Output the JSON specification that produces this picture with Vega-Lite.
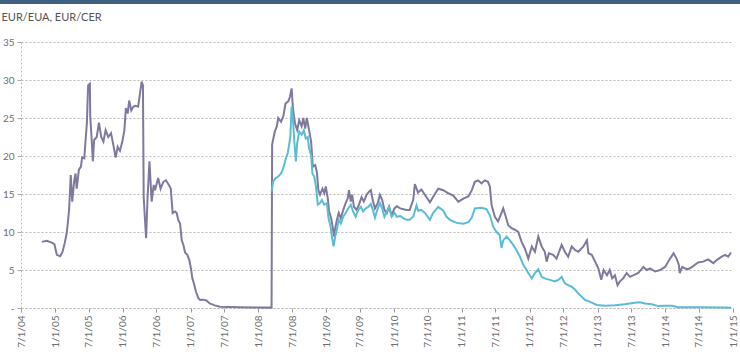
{
  "$schema": "https://vega.github.io/schema/vega-lite/v6.json",
  "width": 712,
  "height": 266,
  "autosize": {"type": "none"},
  "padding": {"left": 21, "top": 42, "right": 7, "bottom": 48},
  "background": "white",
  "config": {
    "view": {"stroke": null},
    "font": "Lato",
    "axisX": {
      "labelAngle": -90,
      "labelAlign": "right",
      "labelBaseline": "middle",
      "labelFont": "Lato",
      "labelFontSize": 10,
      "labelColor": "#6e6e6e",
      "labelPadding": 3,
      "labelFlush": false,
      "labelOverlap": false,
      "tickSize": 4,
      "tickColor": "#9a9a9a",
      "domainColor": "#b8b8b8",
      "domainDash": [2, 2],
      "grid": false
    },
    "axisY": {
      "titleAngle": 0,
      "titleAlign": "left",
      "titleBaseline": "middle",
      "titleX": -20,
      "titleY": -25,
      "titleFont": "Lato",
      "titleFontSize": 11,
      "titleFontWeight": "normal",
      "titleColor": "#555555",
      "labelFont": "Lato",
      "labelFontSize": 10,
      "labelColor": "#6e6e6e",
      "labelPadding": 3,
      "tickSize": 4,
      "tickColor": "#aaaaaa",
      "domainColor": "#b8b8b8",
      "domainDash": [2, 2],
      "grid": true,
      "gridColor": "#b8b8b8",
      "gridDash": [2, 2]
    }
  },
  "datasets": {
    "prices": [
      {"date":"2004-10-21","series":"EUA","price":8.7},
      {"date":"2004-11-17","series":"EUA","price":8.85},
      {"date":"2004-12-14","series":"EUA","price":8.6},
      {"date":"2004-12-28","series":"EUA","price":8.4},
      {"date":"2005-01-10","series":"EUA","price":7.0},
      {"date":"2005-01-28","series":"EUA","price":6.8},
      {"date":"2005-02-10","series":"EUA","price":7.4},
      {"date":"2005-02-21","series":"EUA","price":8.5},
      {"date":"2005-03-04","series":"EUA","price":9.8},
      {"date":"2005-03-09","series":"EUA","price":10.9},
      {"date":"2005-03-17","series":"EUA","price":12.9},
      {"date":"2005-03-21","series":"EUA","price":14.9},
      {"date":"2005-03-26","series":"EUA","price":17.5},
      {"date":"2005-04-03","series":"EUA","price":14.0},
      {"date":"2005-04-14","series":"EUA","price":16.8},
      {"date":"2005-04-21","series":"EUA","price":17.7},
      {"date":"2005-04-27","series":"EUA","price":15.7},
      {"date":"2005-05-09","series":"EUA","price":18.2},
      {"date":"2005-05-20","series":"EUA","price":18.6},
      {"date":"2005-05-26","series":"EUA","price":19.8},
      {"date":"2005-06-07","series":"EUA","price":19.7},
      {"date":"2005-06-14","series":"EUA","price":22.1},
      {"date":"2005-06-21","series":"EUA","price":24.3},
      {"date":"2005-06-25","series":"EUA","price":27.4},
      {"date":"2005-06-28","series":"EUA","price":29.3},
      {"date":"2005-07-07","series":"EUA","price":29.5},
      {"date":"2005-07-09","series":"EUA","price":25.2},
      {"date":"2005-07-16","series":"EUA","price":22.5},
      {"date":"2005-07-23","series":"EUA","price":19.3},
      {"date":"2005-07-30","series":"EUA","price":22.1},
      {"date":"2005-08-13","series":"EUA","price":22.5},
      {"date":"2005-08-25","series":"EUA","price":24.4},
      {"date":"2005-09-06","series":"EUA","price":22.5},
      {"date":"2005-09-18","series":"EUA","price":21.9},
      {"date":"2005-09-30","series":"EUA","price":23.4},
      {"date":"2005-10-14","series":"EUA","price":22.5},
      {"date":"2005-10-29","series":"EUA","price":23.0},
      {"date":"2005-11-11","series":"EUA","price":21.4},
      {"date":"2005-11-23","series":"EUA","price":19.8},
      {"date":"2005-12-04","series":"EUA","price":21.2},
      {"date":"2005-12-16","series":"EUA","price":20.7},
      {"date":"2005-12-29","series":"EUA","price":21.9},
      {"date":"2006-01-09","series":"EUA","price":23.4},
      {"date":"2006-01-17","series":"EUA","price":26.3},
      {"date":"2006-01-27","series":"EUA","price":25.6},
      {"date":"2006-02-04","series":"EUA","price":27.3},
      {"date":"2006-02-15","series":"EUA","price":26.0},
      {"date":"2006-02-27","series":"EUA","price":26.5},
      {"date":"2006-03-10","series":"EUA","price":26.6},
      {"date":"2006-03-24","series":"EUA","price":26.5},
      {"date":"2006-04-03","series":"EUA","price":28.2},
      {"date":"2006-04-12","series":"EUA","price":29.8},
      {"date":"2006-04-19","series":"EUA","price":29.3},
      {"date":"2006-04-23","series":"EUA","price":14.6},
      {"date":"2006-04-29","series":"EUA","price":12.0},
      {"date":"2006-05-06","series":"EUA","price":9.2},
      {"date":"2006-05-14","series":"EUA","price":14.6},
      {"date":"2006-05-24","series":"EUA","price":19.3},
      {"date":"2006-06-05","series":"EUA","price":14.0},
      {"date":"2006-06-16","series":"EUA","price":16.2},
      {"date":"2006-06-23","series":"EUA","price":15.5},
      {"date":"2006-07-10","series":"EUA","price":17.1},
      {"date":"2006-07-23","series":"EUA","price":15.7},
      {"date":"2006-08-07","series":"EUA","price":16.6},
      {"date":"2006-08-21","series":"EUA","price":16.8},
      {"date":"2006-09-08","series":"EUA","price":16.1},
      {"date":"2006-09-16","series":"EUA","price":15.7},
      {"date":"2006-09-26","series":"EUA","price":12.5},
      {"date":"2006-10-09","series":"EUA","price":12.7},
      {"date":"2006-10-18","series":"EUA","price":12.5},
      {"date":"2006-10-26","series":"EUA","price":11.6},
      {"date":"2006-11-05","series":"EUA","price":11.1},
      {"date":"2006-11-14","series":"EUA","price":8.9},
      {"date":"2006-11-23","series":"EUA","price":8.3},
      {"date":"2006-12-02","series":"EUA","price":7.3},
      {"date":"2006-12-14","series":"EUA","price":7.0},
      {"date":"2006-12-25","series":"EUA","price":6.3},
      {"date":"2007-01-04","series":"EUA","price":5.0},
      {"date":"2007-01-10","series":"EUA","price":3.9},
      {"date":"2007-01-19","series":"EUA","price":3.2},
      {"date":"2007-01-30","series":"EUA","price":2.1},
      {"date":"2007-02-12","series":"EUA","price":1.3},
      {"date":"2007-02-21","series":"EUA","price":1.05},
      {"date":"2007-03-09","series":"EUA","price":1.1},
      {"date":"2007-03-27","series":"EUA","price":1.0},
      {"date":"2007-04-14","series":"EUA","price":0.6},
      {"date":"2007-05-11","series":"EUA","price":0.35},
      {"date":"2007-06-07","series":"EUA","price":0.17},
      {"date":"2007-09-24","series":"EUA","price":0.1},
      {"date":"2007-12-22","series":"EUA","price":0.08},
      {"date":"2008-03-12","series":"EUA","price":0.05},
      {"date":"2008-03-15","series":"EUA","price":21.5},
      {"date":"2008-03-20","series":"EUA","price":22.1},
      {"date":"2008-03-29","series":"EUA","price":23.2},
      {"date":"2008-04-09","series":"EUA","price":23.9},
      {"date":"2008-04-17","series":"EUA","price":25.0},
      {"date":"2008-05-02","series":"EUA","price":24.5},
      {"date":"2008-05-14","series":"EUA","price":25.2},
      {"date":"2008-05-26","series":"EUA","price":26.9},
      {"date":"2008-06-10","series":"EUA","price":27.2},
      {"date":"2008-06-19","series":"EUA","price":27.8},
      {"date":"2008-06-28","series":"EUA","price":28.9},
      {"date":"2008-07-05","series":"EUA","price":26.3},
      {"date":"2008-07-16","series":"EUA","price":24.3},
      {"date":"2008-07-28","series":"EUA","price":23.4},
      {"date":"2008-08-08","series":"EUA","price":24.7},
      {"date":"2008-08-21","series":"EUA","price":23.9},
      {"date":"2008-08-30","series":"EUA","price":25.0},
      {"date":"2008-09-09","series":"EUA","price":23.6},
      {"date":"2008-09-18","series":"EUA","price":25.0},
      {"date":"2008-09-30","series":"EUA","price":23.4},
      {"date":"2008-10-11","series":"EUA","price":21.9},
      {"date":"2008-10-20","series":"EUA","price":18.6},
      {"date":"2008-11-02","series":"EUA","price":18.8},
      {"date":"2008-11-11","series":"EUA","price":17.9},
      {"date":"2008-11-19","series":"EUA","price":15.5},
      {"date":"2008-11-28","series":"EUA","price":14.9},
      {"date":"2008-12-11","series":"EUA","price":15.7},
      {"date":"2008-12-21","series":"EUA","price":15.1},
      {"date":"2008-12-29","series":"EUA","price":16.0},
      {"date":"2009-01-09","series":"EUA","price":14.4},
      {"date":"2009-01-16","series":"EUA","price":12.7},
      {"date":"2009-01-27","series":"EUA","price":11.8},
      {"date":"2009-02-04","series":"EUA","price":10.7},
      {"date":"2009-02-11","series":"EUA","price":9.4},
      {"date":"2009-02-18","series":"EUA","price":10.5},
      {"date":"2009-02-27","series":"EUA","price":11.6},
      {"date":"2009-03-09","series":"EUA","price":12.5},
      {"date":"2009-03-20","series":"EUA","price":11.8},
      {"date":"2009-04-02","series":"EUA","price":12.9},
      {"date":"2009-04-15","series":"EUA","price":13.8},
      {"date":"2009-04-26","series":"EUA","price":14.4},
      {"date":"2009-05-03","series":"EUA","price":15.5},
      {"date":"2009-05-13","series":"EUA","price":14.0},
      {"date":"2009-05-20","series":"EUA","price":14.9},
      {"date":"2009-05-30","series":"EUA","price":13.3},
      {"date":"2009-06-13","series":"EUA","price":12.9},
      {"date":"2009-06-26","series":"EUA","price":13.6},
      {"date":"2009-07-10","series":"EUA","price":14.6},
      {"date":"2009-07-22","series":"EUA","price":14.0},
      {"date":"2009-08-06","series":"EUA","price":14.9},
      {"date":"2009-08-19","series":"EUA","price":15.3},
      {"date":"2009-08-29","series":"EUA","price":15.5},
      {"date":"2009-09-08","series":"EUA","price":14.2},
      {"date":"2009-09-20","series":"EUA","price":13.1},
      {"date":"2009-10-05","series":"EUA","price":13.8},
      {"date":"2009-10-17","series":"EUA","price":14.9},
      {"date":"2009-10-29","series":"EUA","price":14.2},
      {"date":"2009-11-10","series":"EUA","price":12.9},
      {"date":"2009-11-23","series":"EUA","price":12.5},
      {"date":"2009-12-05","series":"EUA","price":13.3},
      {"date":"2009-12-19","series":"EUA","price":12.2},
      {"date":"2010-01-03","series":"EUA","price":13.1},
      {"date":"2010-01-16","series":"EUA","price":13.4},
      {"date":"2010-02-03","series":"EUA","price":13.1},
      {"date":"2010-02-21","series":"EUA","price":13.0},
      {"date":"2010-03-09","series":"EUA","price":12.9},
      {"date":"2010-03-26","series":"EUA","price":12.9},
      {"date":"2010-04-14","series":"EUA","price":14.2},
      {"date":"2010-04-23","series":"EUA","price":16.3},
      {"date":"2010-05-10","series":"EUA","price":15.2},
      {"date":"2010-05-28","series":"EUA","price":15.6},
      {"date":"2010-06-16","series":"EUA","price":14.9},
      {"date":"2010-07-13","series":"EUA","price":13.9},
      {"date":"2010-07-30","series":"EUA","price":14.6},
      {"date":"2010-08-27","series":"EUA","price":15.7},
      {"date":"2010-09-23","series":"EUA","price":15.5},
      {"date":"2010-10-20","series":"EUA","price":15.1},
      {"date":"2010-11-16","series":"EUA","price":14.8},
      {"date":"2010-12-13","series":"EUA","price":14.0},
      {"date":"2011-01-10","series":"EUA","price":14.4},
      {"date":"2011-02-06","series":"EUA","price":14.7},
      {"date":"2011-02-24","series":"EUA","price":15.5},
      {"date":"2011-03-12","series":"EUA","price":16.6},
      {"date":"2011-03-29","series":"EUA","price":16.8},
      {"date":"2011-04-17","series":"EUA","price":16.4},
      {"date":"2011-05-05","series":"EUA","price":16.8},
      {"date":"2011-05-22","series":"EUA","price":16.6},
      {"date":"2011-06-01","series":"EUA","price":16.0},
      {"date":"2011-06-10","series":"EUA","price":13.6},
      {"date":"2011-06-28","series":"EUA","price":12.0},
      {"date":"2011-07-15","series":"EUA","price":11.4},
      {"date":"2011-08-03","series":"EUA","price":12.5},
      {"date":"2011-08-12","series":"EUA","price":13.1},
      {"date":"2011-08-26","series":"EUA","price":12.0},
      {"date":"2011-09-08","series":"EUA","price":10.9},
      {"date":"2011-09-26","series":"EUA","price":10.5},
      {"date":"2011-10-14","series":"EUA","price":10.3},
      {"date":"2011-11-01","series":"EUA","price":10.0},
      {"date":"2011-11-19","series":"EUA","price":8.7},
      {"date":"2011-12-07","series":"EUA","price":7.8},
      {"date":"2011-12-25","series":"EUA","price":6.5},
      {"date":"2012-01-13","series":"EUA","price":8.1},
      {"date":"2012-01-30","series":"EUA","price":7.4},
      {"date":"2012-02-17","series":"EUA","price":9.4},
      {"date":"2012-03-06","series":"EUA","price":8.1},
      {"date":"2012-03-23","series":"EUA","price":7.4},
      {"date":"2012-04-02","series":"EUA","price":6.1},
      {"date":"2012-04-14","series":"EUA","price":7.2},
      {"date":"2012-05-07","series":"EUA","price":7.0},
      {"date":"2012-05-25","series":"EUA","price":6.5},
      {"date":"2012-06-22","series":"EUA","price":8.3},
      {"date":"2012-07-09","series":"EUA","price":7.4},
      {"date":"2012-07-27","series":"EUA","price":6.75},
      {"date":"2012-08-15","series":"EUA","price":8.1},
      {"date":"2012-09-03","series":"EUA","price":7.6},
      {"date":"2012-09-20","series":"EUA","price":7.4},
      {"date":"2012-10-17","series":"EUA","price":8.1},
      {"date":"2012-11-05","series":"EUA","price":8.9},
      {"date":"2012-11-13","series":"EUA","price":7.2},
      {"date":"2012-12-01","series":"EUA","price":7.0},
      {"date":"2012-12-19","series":"EUA","price":6.1},
      {"date":"2013-01-06","series":"EUA","price":5.2},
      {"date":"2013-01-21","series":"EUA","price":3.7},
      {"date":"2013-02-03","series":"EUA","price":5.0},
      {"date":"2013-02-21","series":"EUA","price":4.3},
      {"date":"2013-03-08","series":"EUA","price":5.0},
      {"date":"2013-03-21","series":"EUA","price":3.9},
      {"date":"2013-04-05","series":"EUA","price":4.3},
      {"date":"2013-04-19","series":"EUA","price":3.0},
      {"date":"2013-05-02","series":"EUA","price":3.5},
      {"date":"2013-05-19","series":"EUA","price":3.9},
      {"date":"2013-06-07","series":"EUA","price":4.6},
      {"date":"2013-06-25","series":"EUA","price":4.1},
      {"date":"2013-07-12","series":"EUA","price":4.3},
      {"date":"2013-08-09","series":"EUA","price":4.6},
      {"date":"2013-09-05","series":"EUA","price":5.4},
      {"date":"2013-09-23","series":"EUA","price":5.0},
      {"date":"2013-10-11","series":"EUA","price":5.2},
      {"date":"2013-11-08","series":"EUA","price":4.8},
      {"date":"2013-12-04","series":"EUA","price":5.0},
      {"date":"2013-12-31","series":"EUA","price":5.4},
      {"date":"2014-01-27","series":"EUA","price":6.5},
      {"date":"2014-02-15","series":"EUA","price":7.2},
      {"date":"2014-03-03","series":"EUA","price":6.5},
      {"date":"2014-03-15","series":"EUA","price":5.7},
      {"date":"2014-03-20","series":"EUA","price":4.6},
      {"date":"2014-04-02","series":"EUA","price":5.4},
      {"date":"2014-04-17","series":"EUA","price":5.2},
      {"date":"2014-05-04","series":"EUA","price":5.1},
      {"date":"2014-05-22","series":"EUA","price":5.35},
      {"date":"2014-06-10","series":"EUA","price":5.7},
      {"date":"2014-06-27","series":"EUA","price":6.0},
      {"date":"2014-07-24","series":"EUA","price":6.1},
      {"date":"2014-08-20","series":"EUA","price":6.4},
      {"date":"2014-09-17","series":"EUA","price":5.9},
      {"date":"2014-10-05","series":"EUA","price":6.3},
      {"date":"2014-11-01","series":"EUA","price":6.75},
      {"date":"2014-11-19","series":"EUA","price":7.0},
      {"date":"2014-12-06","series":"EUA","price":6.75},
      {"date":"2014-12-21","series":"EUA","price":7.3},
      {"date":"2008-03-12","series":"CER","price":15.3},
      {"date":"2008-03-20","series":"CER","price":16.6},
      {"date":"2008-04-03","series":"CER","price":17.1},
      {"date":"2008-04-17","series":"CER","price":17.3},
      {"date":"2008-05-02","series":"CER","price":17.7},
      {"date":"2008-05-14","series":"CER","price":18.4},
      {"date":"2008-05-26","series":"CER","price":19.5},
      {"date":"2008-06-07","series":"CER","price":20.4},
      {"date":"2008-06-14","series":"CER","price":21.4},
      {"date":"2008-06-21","series":"CER","price":22.5},
      {"date":"2008-06-28","series":"CER","price":26.5},
      {"date":"2008-07-05","series":"CER","price":25.0},
      {"date":"2008-07-12","series":"CER","price":22.1},
      {"date":"2008-07-21","series":"CER","price":19.3},
      {"date":"2008-07-28","series":"CER","price":21.7},
      {"date":"2008-08-08","series":"CER","price":23.2},
      {"date":"2008-08-21","series":"CER","price":22.8},
      {"date":"2008-09-02","series":"CER","price":23.4},
      {"date":"2008-09-12","series":"CER","price":22.3},
      {"date":"2008-09-23","series":"CER","price":22.5},
      {"date":"2008-09-30","series":"CER","price":21.0},
      {"date":"2008-10-11","series":"CER","price":20.1},
      {"date":"2008-10-18","series":"CER","price":17.7},
      {"date":"2008-10-28","series":"CER","price":17.3},
      {"date":"2008-11-06","series":"CER","price":16.0},
      {"date":"2008-11-16","series":"CER","price":13.6},
      {"date":"2008-11-28","series":"CER","price":13.8},
      {"date":"2008-12-08","series":"CER","price":14.2},
      {"date":"2008-12-21","series":"CER","price":13.6},
      {"date":"2009-01-04","series":"CER","price":13.8},
      {"date":"2009-01-13","series":"CER","price":11.8},
      {"date":"2009-01-24","series":"CER","price":10.7},
      {"date":"2009-01-31","series":"CER","price":9.4},
      {"date":"2009-02-09","series":"CER","price":8.1},
      {"date":"2009-02-18","series":"CER","price":9.4},
      {"date":"2009-02-28","series":"CER","price":10.5},
      {"date":"2009-03-09","series":"CER","price":11.6},
      {"date":"2009-03-20","series":"CER","price":11.1},
      {"date":"2009-04-02","series":"CER","price":12.0},
      {"date":"2009-04-15","series":"CER","price":12.5},
      {"date":"2009-04-29","series":"CER","price":13.1},
      {"date":"2009-05-13","series":"CER","price":13.6},
      {"date":"2009-05-25","series":"CER","price":12.7},
      {"date":"2009-06-08","series":"CER","price":12.0},
      {"date":"2009-06-22","series":"CER","price":12.9},
      {"date":"2009-07-06","series":"CER","price":13.3},
      {"date":"2009-07-18","series":"CER","price":12.7},
      {"date":"2009-08-01","series":"CER","price":13.1},
      {"date":"2009-08-15","series":"CER","price":13.3},
      {"date":"2009-08-29","series":"CER","price":13.7},
      {"date":"2009-09-11","series":"CER","price":12.7},
      {"date":"2009-09-20","series":"CER","price":11.9},
      {"date":"2009-10-05","series":"CER","price":13.1},
      {"date":"2009-10-17","series":"CER","price":13.8},
      {"date":"2009-10-29","series":"CER","price":13.1},
      {"date":"2009-11-10","series":"CER","price":12.0},
      {"date":"2009-11-23","series":"CER","price":12.7},
      {"date":"2009-12-05","series":"CER","price":13.3},
      {"date":"2009-12-19","series":"CER","price":12.0},
      {"date":"2010-01-03","series":"CER","price":12.5},
      {"date":"2010-01-16","series":"CER","price":12.0},
      {"date":"2010-02-03","series":"CER","price":12.1},
      {"date":"2010-02-21","series":"CER","price":11.8},
      {"date":"2010-03-09","series":"CER","price":11.6},
      {"date":"2010-03-26","series":"CER","price":11.6},
      {"date":"2010-04-14","series":"CER","price":12.0},
      {"date":"2010-05-02","series":"CER","price":13.5},
      {"date":"2010-05-10","series":"CER","price":12.8},
      {"date":"2010-05-28","series":"CER","price":12.9},
      {"date":"2010-06-16","series":"CER","price":12.5},
      {"date":"2010-07-13","series":"CER","price":11.6},
      {"date":"2010-07-30","series":"CER","price":12.5},
      {"date":"2010-08-27","series":"CER","price":13.3},
      {"date":"2010-09-23","series":"CER","price":12.8},
      {"date":"2010-10-11","series":"CER","price":12.0},
      {"date":"2010-10-29","series":"CER","price":11.6},
      {"date":"2010-12-04","series":"CER","price":11.2},
      {"date":"2011-01-10","series":"CER","price":11.1},
      {"date":"2011-02-06","series":"CER","price":11.3},
      {"date":"2011-02-24","series":"CER","price":11.9},
      {"date":"2011-03-12","series":"CER","price":13.1},
      {"date":"2011-04-17","series":"CER","price":13.2},
      {"date":"2011-05-14","series":"CER","price":13.0},
      {"date":"2011-06-01","series":"CER","price":12.2},
      {"date":"2011-06-19","series":"CER","price":10.7},
      {"date":"2011-07-07","series":"CER","price":10.0},
      {"date":"2011-07-24","series":"CER","price":9.6},
      {"date":"2011-08-03","series":"CER","price":7.9},
      {"date":"2011-08-12","series":"CER","price":8.9},
      {"date":"2011-08-30","series":"CER","price":9.4},
      {"date":"2011-09-17","series":"CER","price":8.9},
      {"date":"2011-10-05","series":"CER","price":8.3},
      {"date":"2011-10-23","series":"CER","price":7.6},
      {"date":"2011-11-10","series":"CER","price":6.75},
      {"date":"2011-11-28","series":"CER","price":5.7},
      {"date":"2011-12-16","series":"CER","price":5.0},
      {"date":"2011-12-25","series":"CER","price":4.6},
      {"date":"2012-01-13","series":"CER","price":3.9},
      {"date":"2012-01-30","series":"CER","price":4.6},
      {"date":"2012-02-17","series":"CER","price":5.1},
      {"date":"2012-03-06","series":"CER","price":4.1},
      {"date":"2012-03-23","series":"CER","price":3.9},
      {"date":"2012-04-20","series":"CER","price":3.7},
      {"date":"2012-05-16","series":"CER","price":3.5},
      {"date":"2012-06-04","series":"CER","price":3.7},
      {"date":"2012-06-22","series":"CER","price":4.1},
      {"date":"2012-07-09","series":"CER","price":3.25},
      {"date":"2012-07-27","series":"CER","price":3.0},
      {"date":"2012-08-15","series":"CER","price":2.8},
      {"date":"2012-09-03","series":"CER","price":2.4},
      {"date":"2012-09-20","series":"CER","price":1.9},
      {"date":"2012-10-08","series":"CER","price":1.5},
      {"date":"2012-10-26","series":"CER","price":1.05},
      {"date":"2012-11-13","series":"CER","price":0.9},
      {"date":"2012-12-01","series":"CER","price":0.7},
      {"date":"2012-12-28","series":"CER","price":0.4},
      {"date":"2013-02-12","series":"CER","price":0.3},
      {"date":"2013-04-05","series":"CER","price":0.35},
      {"date":"2013-05-28","series":"CER","price":0.5},
      {"date":"2013-07-21","series":"CER","price":0.7},
      {"date":"2013-08-18","series":"CER","price":0.75},
      {"date":"2013-09-14","series":"CER","price":0.6},
      {"date":"2013-10-20","series":"CER","price":0.5},
      {"date":"2013-11-25","series":"CER","price":0.25},
      {"date":"2013-12-31","series":"CER","price":0.3},
      {"date":"2014-02-06","series":"CER","price":0.3},
      {"date":"2014-03-11","series":"CER","price":0.1},
      {"date":"2014-06-27","series":"CER","price":0.1},
      {"date":"2014-11-19","series":"CER","price":0.05},
      {"date":"2014-12-21","series":"CER","price":0.03}
    ]
  },
  "layer": [
    {
      "data": {"name": "prices"},
      "mark": {"type": "line", "strokeWidth": 2, "interpolate": "linear"},
      "encoding": {
        "x": {
          "field": "date", "type": "temporal", "title": null,
          "scale": {"type": "utc", "domain": [{"year": 2004, "month": 7, "date": 1, "utc": true}, {"year": 2015, "month": 1, "date": 1, "utc": true}]},
          "axis": {
            "title": null,
            "tickCount": {"interval": "month", "step": 6},
            "labelExpr": "utcFormat(datum.value, '%-m/%-d/%y')"
          }
        },
        "y": {
          "field": "price", "type": "quantitative", "title": "EUR/EUA, EUR/CER",
          "scale": {"domain": [0, 35], "nice": false, "zero": true},
          "axis": {
            "title": "EUR/EUA, EUR/CER",
            "tickCount": 7,
            "labelExpr": "datum.value == 0 ? '-' : datum.label"
          }
        },
        "color": {
          "field": "series", "type": "nominal",
          "scale": {"domain": ["EUA", "CER"], "range": ["#7e799f", "#5bbcd6"]},
          "legend": null
        },
        "order": {"field": "date"}
      }
    },
    {
      "data": {"values": [{}]},
      "mark": {"type": "rect", "color": "#3f6080", "clip": false},
      "encoding": {
        "x": {"datum": {"year": 2004, "month": 1, "date": 1, "utc": true}, "type": "temporal", "title": null,
              "axis": {"title": null, "tickCount": {"interval": "month", "step": 6}, "labelExpr": "utcFormat(datum.value, '%-m/%-d/%y')"}},
        "x2": {"datum": {"year": 2015, "month": 6, "date": 1, "utc": true}},
        "y": {"datum": 40.6, "type": "quantitative", "title": "EUR/EUA, EUR/CER",
              "axis": {"title": "EUR/EUA, EUR/CER", "tickCount": 7, "labelExpr": "datum.value == 0 ? '-' : datum.label"}},
        "y2": {"datum": 40.0}
      }
    }
  ]
}
